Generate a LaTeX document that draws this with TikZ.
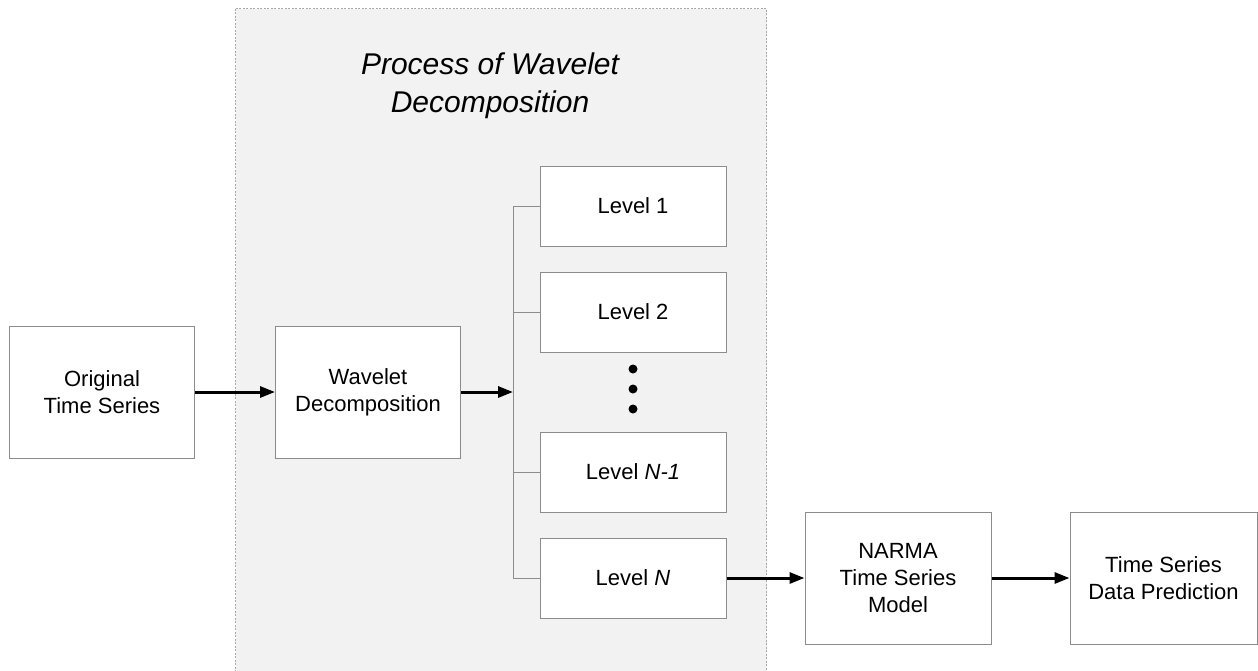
\documentclass[tikz,border=0pt]{standalone}
\usepackage{fontspec}
\setmainfont{Liberation Sans}
\usetikzlibrary{arrows.meta}
\definecolor{panelfill}{HTML}{F2F2F2}
\definecolor{panelline}{HTML}{A8A8A8}
\definecolor{boxline}{HTML}{8C8C8C}
\tikzset{
  blockbox/.style={draw=boxline, line width=1pt, fill=white, minimum width=185pt,
    minimum height=132pt, align=center, font=\fontsize{22}{27}\selectfont, inner sep=0pt},
  levelbox/.style={blockbox, minimum width=186pt, minimum height=80pt},
  flow/.style={line width=3pt, -{Triangle[length=15pt,width=11pt]}},
  bus/.style={draw=boxline, line width=1pt},
  dotmark/.style={circle, fill=black, inner sep=0pt, minimum size=9pt}
}
\begin{document}
\begin{tikzpicture}[x=1pt, y=-1pt]
\useasboundingbox (0,0) rectangle (1258,670);
% shaded panel for the decomposition stage
\draw[panelline, fill=panelfill, line width=0.8pt, dash pattern=on 2pt off 1.5pt]
  (235.5,8.5) rectangle (766.5,672);
\node[align=center, font=\fontsize{30}{38}\selectfont\itshape] (title) at (490,86)
  {Process of Wavelet\\Decomposition};

% blocks
\node[blockbox] (orig) at (102,392) {Original\\Time Series};
\node[blockbox] (wd) at (368,392) {Wavelet\\Decomposition};
\node[levelbox] (l1) at (633,206) {Level 1};
\node[levelbox] (l2) at (633,312) {Level 2};
\node[levelbox] (ln1) at (633,472) {Level \textit{N-1}};
\node[levelbox] (ln) at (633,578) {Level \textit{N}};
\node[blockbox, minimum width=186pt] (narma) at (898,578) {NARMA\\Time Series\\Model};
\node[blockbox, minimum width=187pt] (pred) at (1163.5,578) {Time Series\\Data Prediction};

% ellipsis between the levels
\node[dotmark] (d1) at (633,369) {};
\node[dotmark] (d2) at (633,389) {};
\node[dotmark] (d3) at (633,409) {};

% distribution bus
\coordinate (busmid) at (513,392);
\coordinate (bustop) at (513,206);
\coordinate (busbot) at (513,578);
\draw[bus] (bustop) -- (busbot);
\draw[bus] (bustop) -- (l1.west);
\draw[bus] (513,312) -- (l2.west);
\draw[bus] (513,472) -- (ln1.west);
\draw[bus] (busbot) -- (ln.west);

% data flow
\draw[flow] (orig.east) -- (wd.west);
\draw[flow] (wd.east) -- (busmid);
\draw[flow] (ln.east) -- (narma.west);
\draw[flow] (narma.east) -- (pred.west);
\end{tikzpicture}
\end{document}
